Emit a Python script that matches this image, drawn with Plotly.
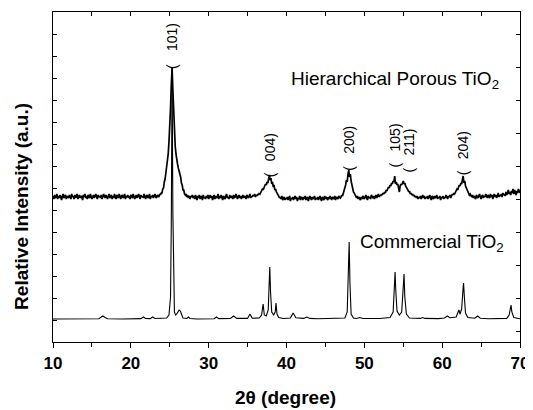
import numpy as np
import plotly.graph_objects as go

FONT = "Liberation Sans, Arial, sans-serif"

# ---------------- data ----------------
# Hierarchical porous TiO2: intensity (a.u.) sampled every 0.1 deg from 10.0 to 70.0
h_start, h_step = 10.0, 0.1
h_10 = [146,143,147,144,145,148,143,146,144,147,145,142,146,148,144,145,147,143,146,145]
h_12 = [144,147,145,143,148,145,146,143,147,144,146,148,143,145,147,144,146,145,142,147]
h_14 = [145,148,144,146,143,147,145,144,148,146,143,145,147,144,146,148,145,143,147,145]
h_16 = [146,144,147,143,145,148,146,144,147,145,143,146,148,144,145,147,143,146,144,148]
h_18 = [145,143,147,146,144,148,145,143,146,147,144,145,148,143,146,145,147,144,146,143]
h_20 = [147,145,144,148,146,143,145,147,144,146,148,145,143,147,145,146,144,148,145,143]
h_22 = [146,147,144,145,148,143,146,145,147,144,146,148,145,144,147,146,145,148,147,149]
h_24 = [149,153,154,160,163,169,174,181,188,200,214,234,258,274,252,228,208,196,188,181]
h_26 = [178,174,171,168,165,159,157,152,152,148,147,148,145,147,144,146,143,146,145,147]
h_28 = [144,146,143,147,145,142,146,144,147,143,145,146,142,147,144,145,143,146,144,147]
h_30 = [143,145,147,144,146,142,145,147,143,146,144,145,148,143,146,144,147,145,142,146]
h_32 = [145,143,146,148,144,145,143,147,144,146,145,143,147,144,145,148,146,143,145,147]
h_34 = [144,146,143,145,147,144,146,145,143,147,145,144,146,148,144,146,145,147,146,148]
h_36 = [145,147,146,148,147,149,148,150,151,153,152,155,156,158,157,160,159,163,167,162]
h_38 = [164,158,160,155,157,152,153,150,149,147,146,144,145,143,146,142,144,145,142,144]
h_40 = [143,145,142,144,146,141,144,143,145,142,144,146,143,145,141,144,143,146,142,145]
h_42 = [144,142,145,143,146,142,144,145,141,143,146,144,142,145,143,144,146,142,144,143]
h_44 = [145,142,144,146,143,141,145,144,142,146,143,145,144,142,145,143,146,144,142,145]
h_46 = [144,143,146,142,145,144,143,146,145,144,145,147,146,149,150,153,157,162,160,168]
h_48 = [172,165,168,161,157,154,150,149,147,146,144,146,143,145,144,142,145,143,146,144]
h_50 = [143,145,147,144,142,146,144,145,143,147,145,144,146,143,145,147,144,146,148,145]
h_52 = [147,146,148,147,149,148,150,149,152,151,153,155,154,157,156,159,158,161,160,166]
h_54 = [158,160,157,158,154,150,156,158,157,159,161,158,159,156,155,153,152,150,151,148]
h_56 = [149,147,148,146,147,145,146,144,146,143,145,144,146,143,145,147,144,146,143,145]
h_58 = [144,146,143,145,147,144,142,146,145,143,146,144,145,147,143,145,144,146,142,145]
h_60 = [144,146,143,145,144,147,145,143,146,145,147,144,146,148,147,149,148,150,151,153]
h_62 = [152,155,157,156,159,158,162,166,159,161,156,154,152,150,149,147,148,146,145,147]
h_64 = [144,146,145,143,147,145,144,146,148,145,143,146,147,144,146,145,148,146,144,147]
h_66 = [146,144,148,145,147,143,146,148,145,147,144,146,149,145,147,146,148,145,149,147]
h_68 = [148,146,150,147,149,152,148,150,147,151,149,153,148,152,150,147,151,149,153,150]
h_70 = [149]

# Commercial TiO2: trace vertices (2theta, intensity a.u.)
c_x = [10.0, 12.0, 14.0, 15.9, 16.2, 16.4, 16.7, 17.0, 19.0, 21.3, 21.6, 21.9, 22.5, 22.8, 23.1,
       24.0, 24.6, 24.9, 25.1, 25.2, 25.3, 25.4, 25.5, 25.6, 25.75, 25.9, 26.05, 26.2, 26.35, 26.5,
       26.7, 27.2, 27.4, 27.6, 28.5, 30.7, 31.0, 31.3, 32.8, 33.2, 33.6, 35.0, 35.3, 35.6, 36.5,
       36.8, 37.0, 37.15, 37.4, 37.65, 37.8, 37.85, 37.95, 38.1, 38.35, 38.55, 38.65, 38.78, 39.0,
       39.6, 40.5, 40.85, 41.2, 42.2, 42.6, 43.0, 44.0, 46.0, 47.5, 47.8, 47.95, 48.05, 48.15, 48.3,
       48.6, 49.0, 49.4, 49.8, 52.0, 53.3, 53.7, 53.9, 53.95, 54.05, 54.2, 54.5, 54.8, 55.0, 55.1,
       55.2, 55.4, 55.8, 56.5, 57.2, 57.5, 57.8, 59.5, 60.3, 60.65, 61.0, 61.8, 62.0, 62.15, 62.3,
       62.5, 62.7, 62.75, 62.85, 63.0, 63.3, 64.2, 64.55, 64.9, 66.0, 68.3, 68.6, 68.8, 68.85, 68.95,
       69.2, 70.0]
c_y = [23, 23.3, 23, 23.2, 25, 26, 24.5, 23.3, 23, 23.4, 25, 23.5, 23.4, 25, 23.5,
       23.5, 24, 27, 45, 120, 274, 130, 48, 30, 27, 28, 30, 32, 31, 27,
       24, 23.5, 25, 23.5, 23, 23.2, 25, 23.4, 23.5, 26, 23.6, 23.6, 28, 23.8, 24,
       27, 38, 27, 26, 32, 60, 75, 50, 30, 27, 30, 39, 28, 24.5,
       23.5, 24, 29, 24.2, 23.6, 25, 23.6, 23.3, 23.4, 24, 30, 70, 100, 60, 28,
       24, 23.5, 24.5, 23.5, 23.5, 24.5, 30, 60, 70, 50, 31, 27, 30, 55, 68,
       45, 28, 24, 23.5, 23.6, 24.5, 23.6, 23.4, 24, 26, 24.3, 25, 29, 32, 28,
       33, 55, 59, 45, 29, 24.5, 23.8, 26, 23.8, 23.3, 23.6, 27, 35, 37, 30,
       24.5, 23.3]

# peak labels
hkl_text = ["101)", "004)", "200)", "105)", "211)", "204)"]
hkl_x = [25.3, 37.9, 48.0, 54.0, 55.8, 62.7]
hkl_paren_y = [275, 167, 174, 177, 172, 169]
hkl_text_y = [305, 195, 202, 205, 200, 197]

# ---------------- build ----------------
h_y = (h_10 + h_12 + h_14 + h_16 + h_18 + h_20 + h_22 + h_24 + h_26 + h_28 + h_30 + h_32 +
       h_34 + h_36 + h_38 + h_40 + h_42 + h_44 + h_46 + h_48 + h_50 + h_52 + h_54 + h_56 +
       h_58 + h_60 + h_62 + h_64 + h_66 + h_68 + h_70)
if len(h_y) != 601:
    raise ValueError("hierarchical length %d" % len(h_y))
h_x = h_start + h_step * np.arange(len(h_y))

fig = go.Figure()
fig.add_trace(go.Scatter(x=h_x, y=h_y, mode="lines",
                         line=dict(color="black", width=1.7), showlegend=False))
fig.add_trace(go.Scatter(x=c_x, y=c_y, mode="lines", xaxis="x2", yaxis="y2",
                         line=dict(color="black", width=1.1), showlegend=False))

ann = []
for t, x, yp, yt in zip(hkl_text, hkl_x, hkl_paren_y, hkl_text_y):
    ann.append(dict(x=x, y=yp, xref="x", yref="y", text="(", textangle=-90, showarrow=False,
                    font=dict(family=FONT, size=14, color="black"), xanchor="center", yanchor="middle"))
    ann.append(dict(x=x, y=yt, xref="x", yref="y", text=t, textangle=-90, showarrow=False,
                    font=dict(family=FONT, size=14, color="black"), xanchor="center", yanchor="middle"))

ann.append(dict(x=40.3, y=262, xref="x", yref="y", text="Hierarchical Porous TiO<sub>2</sub>",
                showarrow=False, xanchor="left", yanchor="middle",
                font=dict(family=FONT, size=19, color="black")))
ann.append(dict(x=49.2, y=99, xref="x", yref="y", text="Commercial TiO<sub>2</sub>",
                showarrow=False, xanchor="left", yanchor="middle",
                font=dict(family=FONT, size=19, color="black")))
ann.append(dict(x=-0.066, y=0.41, xref="paper", yref="paper", text="Relative Intensity (a.u.)",
                textangle=-90, showarrow=False, xanchor="center", yanchor="middle",
                font=dict(family=FONT, size=19, color="black", weight="bold")))
ann.append(dict(x=0.497, y=-0.167, xref="paper", yref="paper", text="2θ (degree)",
                showarrow=False, xanchor="center", yanchor="middle",
                font=dict(family=FONT, size=19, color="black", weight="bold")))

common = dict(showgrid=False, zeroline=False, automargin=False)
fig.update_layout(
    width=525, height=402,
    margin=dict(l=45, r=13, t=4, b=68, autoexpand=False),
    paper_bgcolor="white", plot_bgcolor="white",
    showlegend=False,
    xaxis=dict(range=[10, 70], tick0=10, dtick=10, ticks="outside", ticklen=5, tickwidth=1.3,
               tickcolor="black", showline=True, linecolor="black", linewidth=1.3, mirror=True,
               ticklabeloverflow="allow",
               tickfont=dict(family=FONT, size=17, color="black", weight="bold"),
               minor=dict(tick0=10, dtick=5, ticks="outside", ticklen=4, tickwidth=1.3,
                          tickcolor="black"),
               **common),
    xaxis2=dict(overlaying="x", side="top", range=[10, 70], tick0=10, dtick=5, ticks="inside",
                ticklen=4, tickwidth=1.1, tickcolor="black", showticklabels=False,
                showline=False, **common),
    yaxis=dict(range=[0, 330], tick0=0, dtick=22, ticks="inside", ticklen=4, tickwidth=1.1,
               tickcolor="black", showticklabels=False, showline=True, linecolor="black",
               linewidth=1.3, mirror=True, **common),
    yaxis2=dict(overlaying="y", side="right", range=[0, 330], tick0=11, dtick=33, ticks="inside",
                ticklen=4, tickwidth=1.1, tickcolor="black", showticklabels=False,
                showline=False, **common),
    annotations=ann,
)

fig.write_html("out.html")
